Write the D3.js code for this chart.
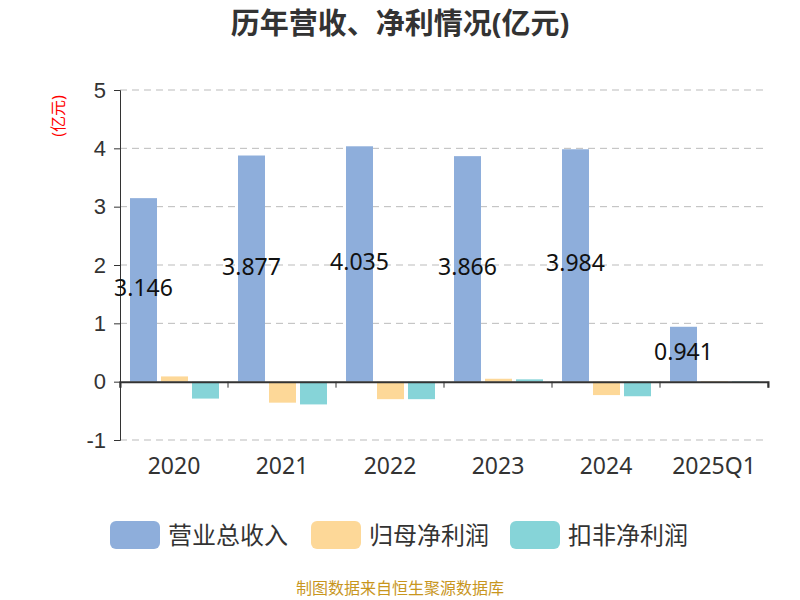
<!DOCTYPE html>
<html><head><meta charset="utf-8">
<script src="https://cdn.jsdelivr.net/npm/d3@7"></script>
<style>body{margin:0;background:#fff;font-family:"Noto Sans","Noto Sans CJK SC",sans-serif}</style>
</head><body>
<script>
var categories = ["2020", "2021", "2022", "2023", "2024", "2025Q1"];
var revenue = [3.146, 3.877, 4.035, 3.866, 3.984, 0.941];
var netProfit = [0.09, -0.36, -0.30, 0.05, -0.23, 0.01];
var deductedProfit = [-0.29, -0.39, -0.30, 0.04, -0.25, 0.01];
var seriesNames = ["营业总收入", "归母净利润", "扣非净利润"];
var colors = ["#8eaedb", "#fdd898", "#86d4d8"];
var yTicks = [-1, 0, 1, 2, 3, 4, 5];

var width = 800, height = 600;
var svg = d3.select("body").append("svg").attr("width", width).attr("height", height);

var x = d3.scaleBand().domain(categories).range([120, 768]);
var y = d3.scaleLinear().domain([-1, 5]).range([440, 90]);

svg.append("text").attr("x", 400).attr("y", 34).attr("text-anchor", "middle")
  .attr("font-size", 29).attr("font-weight", "bold").attr("fill", "#333").text("历年营收、净利情况(亿元)");

// grid
svg.selectAll(".grid").data(yTicks.filter(function(d){return d !== 0;})).enter().append("line")
  .attr("x1", 120).attr("x2", 768).attr("y1", function(d){return y(d);}).attr("y2", function(d){return y(d);})
  .attr("stroke", "#bbb").attr("stroke-dasharray", "7,5");

var yAxis = svg.append("g").attr("transform", "translate(120,0)")
  .call(d3.axisLeft(y).tickValues(yTicks).tickSize(6).tickFormat(function(d){return String(d);}));
yAxis.selectAll("text").attr("font-size", 22).attr("fill", "#333").attr("x", -14);
yAxis.select(".domain").attr("stroke", "#333");
yAxis.selectAll("line").attr("stroke", "#333");

svg.append("text").attr("transform", "translate(64,116) rotate(-90)").attr("text-anchor", "middle")
  .attr("font-size", 16).attr("fill", "red").text("(亿元)");

var series = [revenue, netProfit, deductedProfit];
var bw = 27, offsets = [10, 41, 72];
series.forEach(function(vals, s) {
  svg.selectAll(".b" + s).data(vals).enter().append("rect")
    .attr("x", function(d, i){return x(categories[i]) + offsets[s];})
    .attr("width", bw)
    .attr("y", function(d){return y(Math.max(0, d));})
    .attr("height", function(d){return Math.abs(y(d) - y(0));})
    .attr("fill", colors[s]);
});

var xAxis = svg.append("g").attr("transform", "translate(0," + y(0) + ")")
  .call(d3.axisBottom(x).tickSize(6).tickSizeOuter(6));
xAxis.selectAll("text").remove();
xAxis.select(".domain").attr("stroke", "#333").attr("stroke-width", 2);
xAxis.selectAll(".tick").attr("transform", function(d){return "translate(" + x(d) + ",0)";});
xAxis.selectAll("line").attr("stroke", "#333");
svg.append("line").attr("x1", 768).attr("x2", 768).attr("y1", y(0)).attr("y2", y(0) + 6).attr("stroke", "#333");

svg.selectAll(".cat").data(categories).enter().append("text")
  .attr("x", function(d){return x(d) + x.bandwidth() / 2;}).attr("y", 474)
  .attr("text-anchor", "middle").attr("font-size", 23).attr("fill", "#333").text(function(d){return d;});

svg.selectAll(".lbl").data(revenue).enter().append("text")
  .attr("x", function(d, i){return x(categories[i]) + offsets[0] + bw / 2;})
  .attr("y", function(d){return y(d / 2) + 6;})
  .attr("text-anchor", "middle").attr("font-size", 23).attr("fill", "#111")
  .text(function(d){return d3.format(".3f")(d);});

var legX = [110, 311, 510];
seriesNames.forEach(function(n, i) {
  svg.append("rect").attr("x", legX[i]).attr("y", 521).attr("width", 50).attr("height", 28).attr("rx", 6).attr("fill", colors[i]);
  svg.append("text").attr("x", legX[i] + 58).attr("y", 544).attr("font-size", 24).attr("fill", "#333").text(n);
});

svg.append("text").attr("x", 400).attr("y", 594).attr("text-anchor", "middle")
  .attr("font-size", 16).attr("fill", "#c8961e").text("制图数据来自恒生聚源数据库");
</script>
</body></html>
